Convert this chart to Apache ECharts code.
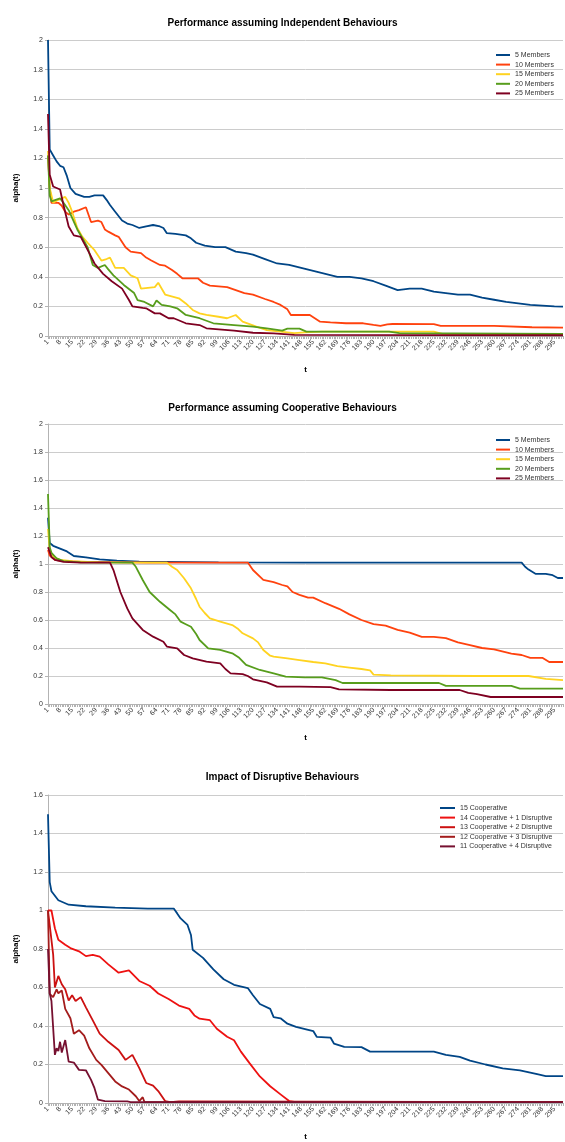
<!DOCTYPE html>
<html>
<head>
<meta charset="utf-8">
<script src="https://cdn.jsdelivr.net/npm/echarts@6/dist/echarts.min.js"></script>
<style>
html, body { margin: 0; padding: 0; background: #fff; }
#chart { width: 565px; height: 1142px; }
</style>
</head>
<body>
<div id="chart"></div>
<script>
// t = 1..300 on every panel
var tLabels = [];
for (var i = 1; i <= 300; i++) tLabels.push(String(i));

// panel 1 - independent behaviours, [t, alpha]
var ind5 = [[1,2.0],[2,1.26],[4,1.22],[6,1.18],[8,1.15],[10,1.14],[12,1.08],[14,1.0],[17,0.96],[18,0.95],[22,0.94],[25,0.94],[28,0.95],[33,0.95],[35,0.92],[37,0.885],[40,0.84],[44,0.78],[47,0.76],[50,0.75],[54,0.73],[58,0.74],[62,0.75],[66,0.74],[68,0.73],[70,0.695],[75,0.69],[81,0.68],[84,0.66],[87,0.63],[92,0.61],[98,0.6],[104,0.6],[110,0.57],[116,0.56],[120,0.55],[127,0.52],[134,0.49],[141,0.48],[148,0.46],[155,0.44],[162,0.42],[169,0.4],[176,0.4],[183,0.39],[190,0.37],[197,0.34],[204,0.31],[211,0.32],[218,0.32],[225,0.3],[232,0.29],[239,0.28],[246,0.28],[253,0.26],[260,0.245],[267,0.23],[274,0.22],[281,0.21],[288,0.205],[295,0.2],[300,0.198]];
var ind10 = [[1,1.22],[2,1.0],[3,0.9],[7,0.9],[9,0.88],[11,0.84],[13,0.82],[16,0.84],[19,0.85],[23,0.87],[24,0.86],[26,0.77],[30,0.78],[32,0.77],[34,0.72],[36,0.705],[40,0.68],[42,0.67],[46,0.6],[49,0.57],[55,0.56],[58,0.53],[61,0.51],[66,0.48],[69,0.475],[73,0.446],[76,0.42],[79,0.39],[88,0.39],[91,0.36],[95,0.34],[105,0.33],[110,0.31],[115,0.29],[120,0.28],[127,0.25],[132,0.23],[136,0.21],[140,0.18],[142,0.142],[153,0.142],[159,0.097],[165,0.092],[174,0.086],[184,0.086],[190,0.075],[194,0.068],[198,0.078],[201,0.081],[225,0.08],[229,0.068],[260,0.068],[282,0.059],[300,0.057]];
var ind15 = [[1,1.25],[2,1.0],[4,0.9],[7,0.92],[11,0.94],[13,0.9],[15,0.84],[18,0.73],[21,0.67],[24,0.63],[28,0.58],[32,0.51],[35,0.52],[37,0.53],[40,0.46],[45,0.46],[49,0.41],[53,0.39],[55,0.32],[63,0.33],[65,0.36],[69,0.28],[77,0.255],[81,0.22],[85,0.176],[89,0.153],[93,0.142],[100,0.13],[105,0.12],[110,0.142],[114,0.097],[118,0.08],[122,0.063],[128,0.04],[136,0.03],[144,0.02],[150,0.025],[160,0.03],[190,0.03],[225,0.03],[230,0.015],[300,0.012]];
var ind20 = [[1,1.22],[2,0.95],[3,0.91],[8,0.93],[10,0.9],[13,0.85],[18,0.72],[21,0.66],[24,0.6],[26,0.52],[27,0.48],[30,0.46],[34,0.48],[36,0.45],[39,0.41],[45,0.345],[51,0.29],[53,0.243],[57,0.23],[62,0.2],[64,0.24],[67,0.21],[72,0.2],[76,0.187],[81,0.142],[89,0.12],[97,0.086],[109,0.074],[120,0.063],[128,0.052],[137,0.036],[140,0.05],[147,0.05],[151,0.03],[199,0.03],[205,0.02],[300,0.015]];
var ind25 = [[1,1.5],[2,1.09],[4,1.01],[8,0.99],[10,0.885],[13,0.74],[16,0.68],[20,0.67],[25,0.56],[28,0.49],[33,0.42],[38,0.37],[44,0.32],[48,0.243],[50,0.2],[56,0.19],[58,0.187],[63,0.153],[66,0.153],[71,0.12],[74,0.12],[81,0.086],[89,0.074],[93,0.052],[109,0.036],[120,0.022],[132,0.018],[144,0.007],[300,0.005]];

// panel 2 - cooperative behaviours
var coop5 = [[1,1.33],[2,1.15],[4,1.13],[8,1.11],[12,1.09],[16,1.057],[23,1.048],[31,1.033],[41,1.024],[54,1.016],[100,1.012],[150,1.01],[200,1.01],[276,1.01],[278,0.98],[280,0.96],[284,0.93],[290,0.93],[294,0.92],[297,0.9],[300,0.9]];
var coop10 = [[1,1.1],[2,1.06],[5,1.03],[10,1.02],[20,1.015],[60,1.01],[117,1.01],[120,0.957],[126,0.886],[132,0.87],[137,0.85],[140,0.84],[143,0.8],[147,0.78],[152,0.76],[155,0.76],[162,0.72],[170,0.68],[176,0.64],[183,0.6],[190,0.57],[197,0.56],[204,0.53],[211,0.51],[218,0.48],[225,0.48],[232,0.47],[239,0.44],[246,0.42],[253,0.4],[260,0.39],[270,0.36],[276,0.35],[281,0.33],[288,0.33],[292,0.3],[300,0.3]];
var coop15 = [[1,1.25],[2,1.1],[4,1.05],[8,1.03],[15,1.02],[30,1.012],[70,1.01],[73,0.98],[76,0.957],[80,0.898],[84,0.826],[87,0.75],[89,0.695],[92,0.65],[95,0.612],[101,0.588],[108,0.564],[111,0.54],[114,0.505],[120,0.469],[123,0.44],[126,0.386],[130,0.345],[132,0.338],[140,0.326],[147,0.314],[155,0.3],[162,0.29],[169,0.27],[176,0.26],[183,0.25],[188,0.24],[190,0.21],[200,0.205],[250,0.2],[280,0.2],[290,0.18],[300,0.17]];
var coop20 = [[1,1.5],[2,1.12],[3,1.08],[6,1.04],[10,1.02],[20,1.012],[50,1.01],[52,0.98],[56,0.886],[60,0.8],[66,0.73],[72,0.67],[75,0.64],[78,0.588],[81,0.57],[84,0.552],[87,0.5],[89,0.457],[94,0.398],[101,0.386],[108,0.362],[112,0.33],[116,0.279],[124,0.243],[132,0.219],[139,0.195],[150,0.19],[160,0.19],[168,0.17],[172,0.15],[200,0.15],[228,0.15],[232,0.13],[270,0.13],[275,0.11],[300,0.11]];
var coop25 = [[1,1.12],[3,1.05],[5,1.03],[10,1.015],[20,1.01],[37,1.01],[39,0.957],[43,0.8],[47,0.683],[50,0.612],[56,0.529],[62,0.481],[68,0.445],[70,0.41],[76,0.398],[80,0.35],[85,0.326],[93,0.302],[101,0.29],[104,0.25],[107,0.219],[114,0.214],[117,0.2],[120,0.176],[128,0.155],[134,0.124],[147,0.124],[165,0.12],[170,0.105],[200,0.1],[240,0.1],[245,0.08],[250,0.07],[258,0.05],[300,0.05]];

// panel 3 - disruptive behaviours
var dis15 = [[1,1.5],[2,1.147],[3,1.1],[7,1.053],[13,1.03],[23,1.022],[40,1.015],[59,1.01],[74,1.01],[76,0.985],[78,0.959],[82,0.925],[84,0.873],[85,0.796],[91,0.754],[97,0.694],[103,0.643],[109,0.614],[117,0.597],[120,0.56],[124,0.514],[130,0.489],[132,0.446],[136,0.44],[140,0.412],[145,0.395],[155,0.374],[157,0.344],[165,0.34],[167,0.309],[173,0.292],[183,0.29],[188,0.267],[225,0.267],[232,0.25],[240,0.24],[246,0.22],[255,0.2],[265,0.18],[275,0.17],[285,0.15],[290,0.14],[300,0.14]];
var dis14 = [[1,1.0],[3,1.0],[5,0.908],[7,0.848],[11,0.822],[14,0.805],[19,0.788],[23,0.763],[27,0.77],[31,0.76],[36,0.72],[42,0.677],[48,0.689],[54,0.634],[60,0.609],[65,0.569],[71,0.54],[77,0.506],[83,0.489],[86,0.455],[89,0.438],[95,0.43],[99,0.386],[105,0.344],[109,0.326],[113,0.267],[118,0.207],[124,0.138],[130,0.087],[136,0.045],[141,0.01],[145,0.005],[300,0.005]];
var dis13 = [[1,1.0],[2,1.0],[4,0.771],[5,0.6],[6,0.59],[7,0.66],[9,0.617],[11,0.591],[13,0.532],[15,0.56],[17,0.53],[20,0.55],[23,0.497],[27,0.429],[31,0.36],[36,0.318],[42,0.275],[46,0.224],[50,0.25],[54,0.181],[58,0.104],[62,0.09],[65,0.062],[69,0.01],[72,0.005],[77,0.008],[78,0.005],[300,0.005]];
var dis12 = [[1,1.0],[2,0.566],[4,0.55],[6,0.59],[7,0.57],[9,0.585],[11,0.489],[14,0.44],[16,0.36],[19,0.378],[22,0.35],[25,0.284],[29,0.224],[32,0.198],[36,0.155],[40,0.112],[44,0.086],[48,0.07],[52,0.035],[54,0.01],[56,0.03],[57,0.005],[300,0.005]];
var dis11 = [[1,0.8],[2,0.57],[3,0.53],[5,0.25],[6,0.284],[7,0.27],[8,0.318],[9,0.262],[11,0.327],[12,0.327],[13,0.215],[16,0.21],[19,0.172],[23,0.17],[26,0.12],[28,0.077],[30,0.017],[34,0.01],[47,0.008],[48,0.012],[49,0.005],[300,0.005]];

var memberNames = ['5 Members', '10 Members', '15 Members', '20 Members', '25 Members'];
var memberColors = ['#004586', '#ff420e', '#ffd320', '#579d1c', '#7e0021'];
var disNames = ['15 Cooperative', '14 Cooperative + 1 Disruptive', '13 Cooperative + 2 Disruptive', '12 Cooperative + 3 Disruptive', '11 Cooperative + 4 Disruptive'];
var disColors = ['#004586', '#ee1111', '#cc1111', '#a31c1c', '#761030'];

var font = 'Liberation Sans, Arial, sans-serif';
var grids = [
    { left: 48, right: 2, top: 40, height: 296 },
    { left: 48, right: 2, top: 424, height: 280 },
    { left: 48, right: 2, top: 795, height: 312 }
];
var yMax = [2, 2, 1.6];

var xAxes = [], yAxes = [], series = [];
for (var g = 0; g < 3; g++) {
    xAxes.push({
        type: 'category', gridIndex: g, data: tLabels, boundaryGap: false,
        name: 't', nameLocation: 'middle', nameGap: 30,
        nameTextStyle: { fontFamily: font, fontSize: 8, fontWeight: 'bold', color: '#000' },
        axisLine: { lineStyle: { color: '#b3b3b3' } },
        axisTick: { interval: 0, length: 3, lineStyle: { color: '#b3b3b3' } },
        axisLabel: { interval: 6, rotate: 45, fontFamily: font, fontSize: 7, color: '#333', margin: 5 },
        splitLine: { show: false }
    });
    yAxes.push({
        type: 'value', gridIndex: g, min: 0, max: yMax[g], interval: 0.2,
        name: 'alpha(t)', nameLocation: 'middle', nameGap: 28,
        nameTextStyle: { fontFamily: font, fontSize: 8, fontWeight: 'bold', color: '#000' },
        axisLine: { show: true, lineStyle: { color: '#b3b3b3' } },
        axisTick: { show: true, length: 3, lineStyle: { color: '#b3b3b3' } },
        axisLabel: { fontFamily: font, fontSize: 7, color: '#333', margin: 5 },
        splitLine: { lineStyle: { color: '#cccccc', width: 1 } }
    });
}

function addLine(name, pts, color, g) {
    series.push({
        name: name, type: 'line', xAxisIndex: g, yAxisIndex: g,
        data: pts.map(function (p) { return [p[0] - 1, p[1]]; }),
        showSymbol: false, symbol: 'none', animation: false,
        lineStyle: { color: color, width: 1.8 },
        itemStyle: { color: color }
    });
}

var ind = [ind5, ind10, ind15, ind20, ind25];
var coop = [coop5, coop10, coop15, coop20, coop25];
var dis = [dis15, dis14, dis13, dis12, dis11];
for (var k = 0; k < 5; k++) addLine(memberNames[k], ind[k], memberColors[k], 0);
for (var k = 0; k < 5; k++) addLine(memberNames[k], coop[k], memberColors[k], 1);
for (var k = 0; k < 5; k++) addLine(disNames[k], dis[k], disColors[k], 2);

function legendAt(names, left, top, w) {
    return {
        data: names, orient: 'vertical', left: left, top: top, padding: 0,
        icon: 'rect', itemWidth: w, itemHeight: 2, itemGap: 1.6,
        selectedMode: false,
        textStyle: { fontFamily: font, fontSize: 7, color: '#333', lineHeight: 8 }
    };
}

var titleStyle = { fontFamily: font, fontSize: 10, fontWeight: 'bold', color: '#000' };
var myChart = echarts.init(document.getElementById('chart'));
var option = {
    backgroundColor: '#fff',
    animation: false,
    title: [
        { text: 'Performance assuming Independent Behaviours', left: 'center', top: 13, textStyle: titleStyle },
        { text: 'Performance assuming Cooperative Behaviours', left: 'center', top: 398, textStyle: titleStyle },
        { text: 'Impact of Disruptive Behaviours', left: 'center', top: 767, textStyle: titleStyle }
    ],
    legend: [
        legendAt(memberNames, 496, 51, 14),
        legendAt(memberNames, 496, 436, 14),
        legendAt(disNames, 440, 804, 15)
    ],
    grid: grids,
    xAxis: xAxes,
    yAxis: yAxes,
    series: series
};
myChart.setOption(option);
</script>
</body>
</html>
